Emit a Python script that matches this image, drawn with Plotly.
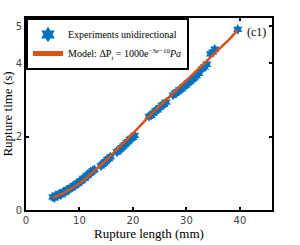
import plotly.graph_objects as go

# Experimental points (rupture length mm, rupture time s)
exp_x = [5.0, 5.3, 5.6, 5.9, 6.2, 6.5, 6.8, 7.1, 7.4, 7.7, 8.0, 8.3, 8.6, 8.9, 9.2, 9.5,
         9.8, 10.1, 10.4, 10.7, 11.0, 11.3, 11.6, 11.9, 12.2, 12.5, 12.8,
         14.0, 14.3, 14.6, 14.9, 15.2, 15.5, 15.8,
         17.0, 17.3, 17.6, 17.9, 18.2, 18.5, 18.8, 19.1, 19.4, 19.7, 20.0, 20.3,
         23.0, 23.4, 23.8, 24.2, 24.6, 25.0, 25.4, 25.8, 26.2,
         27.5, 27.9, 28.3, 28.7, 29.1, 29.5, 29.9, 30.3, 30.7, 31.1, 31.5, 31.9, 32.3,
         33.0, 33.4, 33.8, 34.5, 34.9, 35.3, 39.6]
exp_y = [0.36, 0.33, 0.40, 0.38, 0.44, 0.41, 0.47, 0.50, 0.49, 0.55, 0.56, 0.60, 0.61, 0.66, 0.67, 0.72,
         0.74, 0.78, 0.80, 0.86, 0.87, 0.93, 0.95, 1.00, 1.03, 1.07, 1.10,
         1.20, 1.24, 1.28, 1.32, 1.37, 1.40, 1.45,
         1.58, 1.62, 1.66, 1.70, 1.74, 1.78, 1.83, 1.86, 1.92, 1.95, 1.98, 2.03,
         2.55, 2.58, 2.64, 2.70, 2.73, 2.79, 2.85, 2.88, 2.94,
         3.13, 3.18, 3.22, 3.27, 3.30, 3.36, 3.40, 3.46, 3.50, 3.56, 3.60, 3.66, 3.72,
         3.85, 3.90, 3.97, 4.25, 4.30, 4.38, 4.92]

# Model curve
model_x = [5, 6, 7, 8, 9, 10, 11, 12, 13, 14, 15, 16, 17, 18, 19, 20, 22, 24, 26, 28, 30, 32, 34, 36, 38, 39.6]
model_y = [0.33, 0.39, 0.46, 0.54, 0.63, 0.73, 0.84, 0.96, 1.09, 1.22, 1.36, 1.50, 1.64, 1.79, 1.94, 2.09,
           2.40, 2.70, 2.97, 3.25, 3.52, 3.80, 4.07, 4.36, 4.65, 4.90]

x_ticks = [0, 10, 20, 30, 40]
y_ticks = [0, 2, 4, 5]

serif = "Liberation Serif"

fig = go.Figure()
fig.add_trace(go.Scatter(
    x=exp_x, y=exp_y, mode="markers", name="Experiments unidirectional",
    marker=dict(symbol="hexagram", size=8, color="#0072BD", line=dict(width=0))))
fig.add_trace(go.Scatter(
    x=model_x, y=model_y, mode="lines",
    name="Model: ΔP<sub><i>t</i></sub> = 1000e<sup>−3e−10</sup><i>Pa</i>",
    line=dict(color="#D95319", width=2.5)))

fig.add_annotation(x=41.0, y=4.85, text="(c1)", showarrow=False, xanchor="left",
                   font=dict(family=serif, size=12, color="black"))

axis_common = dict(showline=True, linecolor="black", linewidth=2, mirror="ticks",
                   ticks="inside", ticklen=3, tickwidth=1.5, tickcolor="black",
                   showgrid=False, zeroline=False, automargin=False,
                   tickfont=dict(family="DejaVu Sans", size=10, color="#444"))

fig.update_layout(
    width=300, height=245,
    margin=dict(l=26, r=28, t=18, b=35),
    paper_bgcolor="white", plot_bgcolor="white",
    showlegend=True,
    legend=dict(x=0, y=1, xanchor="left", yanchor="top",
                bordercolor="black", borderwidth=2, bgcolor="white",
                font=dict(family=serif, size=10, color="black"),
                tracegroupgap=0, itemwidth=30, itemsizing="constant"),
    xaxis=dict(range=[0, 46], tickvals=x_ticks,
               title=dict(text="Rupture length (mm)", standoff=0,
                          font=dict(family=serif, size=13, color="black")),
               **axis_common),
    yaxis=dict(range=[0, 5.23], tickvals=y_ticks,
               title=dict(text="Rupture time (s)", standoff=2,
                          font=dict(family=serif, size=13, color="black")),
               **axis_common),
)

fig.write_html("out.html", config={"displayModeBar": False},
               post_script="document.body.style.margin='0px';")
